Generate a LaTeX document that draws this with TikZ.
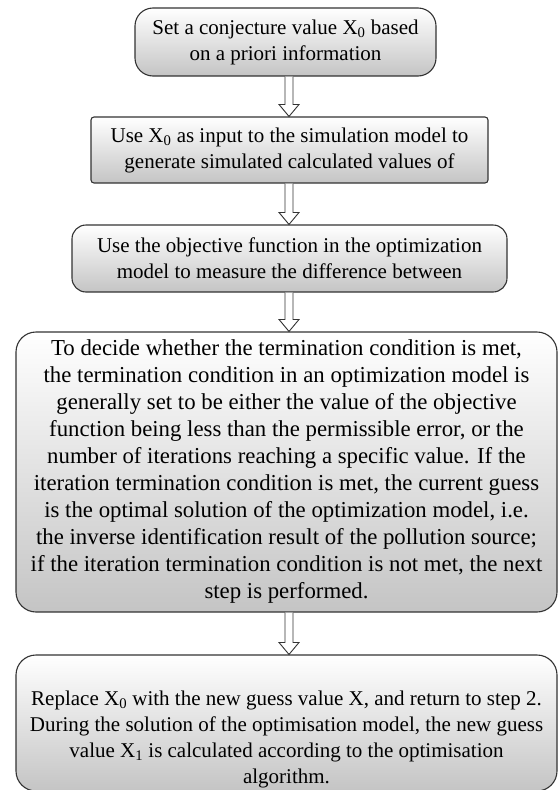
\documentclass[tikz,border=0pt]{standalone}
\usepackage{fontspec}
\setmainfont{Liberation Serif}
\usetikzlibrary{calc}
\definecolor{edgegray}{HTML}{333333}

% hollow block arrow between two boxes, along the spine
\newcommand{\flowarrow}[2]{%
  \draw[arrowline] let \p1=(#1.south -| spine), \p2=(#2.north -| spine) in
    (\x1-4pt,\y1) -- (\x1-4pt,\y2+12pt) -- (\x1-10pt,\y2+12pt) -- (\x1,\y2)
    -- (\x1+10pt,\y2+12pt) -- (\x1+4pt,\y2+12pt) -- (\x1+4pt,\y1);%
}

\begin{document}
\begin{tikzpicture}[x=1pt, y=-1pt,
    stepbox/.style={draw=edgegray, line width=1.1pt, top color=white, bottom color=black!23,
      align=center, inner sep=0pt, font=\fontsize{21}{26}\selectfont},
    steptext/.style={align=center, inner sep=0pt, font=\fontsize{21}{26}\selectfont},
    arrowline/.style={draw=edgegray, line width=0.9pt, fill=white, line join=miter}]
  \useasboundingbox (0,0) rectangle (559,790);
  \coordinate (spine) at (289,0);

  % Step boxes
  \node[stepbox, rounded corners=18pt, minimum width=301pt, minimum height=68pt] (s1) at (285.5,42)
    {Set a conjecture value X\textsubscript{0} based\\on a priori information};
  \node[stepbox, rounded corners=3pt, minimum width=397pt, minimum height=66pt] (s2) at (289.5,150)
    {Use X\textsubscript{0} as input to the simulation model to\\generate simulated calculated values of};
  \node[stepbox, rounded corners=14pt, minimum width=435pt, minimum height=67pt] (s3) at (289.5,258.5)
    {Use the objective function in the optimization\\model to measure the difference between};
  \node[stepbox, rounded corners=20pt, minimum width=541pt, minimum height=280pt,
    font=\fontsize{22.8}{27}\selectfont] (s4) at (286.5,472)
    {To decide whether the termination condition is met,\\
     the termination condition in an optimization model is\\
     generally set to be either the value of the objective\\
     function being less than the permissible error, or the\\
     number of iterations reaching a specific value. If the\\
     iteration termination condition is met, the current guess\\
     is the optimal solution of the optimization model, i.e.\\
     the inverse identification result of the pollution source;\\
     if the iteration termination condition is not met, the next\\
     step is performed.};
  \node[stepbox, rounded corners=20pt, minimum width=541pt, minimum height=136pt] (s5) at (286.5,723) {};
  \node[steptext] (t5) at (286.5,739)
    {Replace X\textsubscript{0} with the new guess value X, and return to step 2.\\
     During the solution of the optimisation model, the new guess\\
     value X\textsubscript{1} is calculated according to the optimisation\\
     algorithm.};

  % Arrows
  \flowarrow{s1}{s2}
  \flowarrow{s2}{s3}
  \flowarrow{s3}{s4}
  \flowarrow{s4}{s5}
\end{tikzpicture}
\end{document}
